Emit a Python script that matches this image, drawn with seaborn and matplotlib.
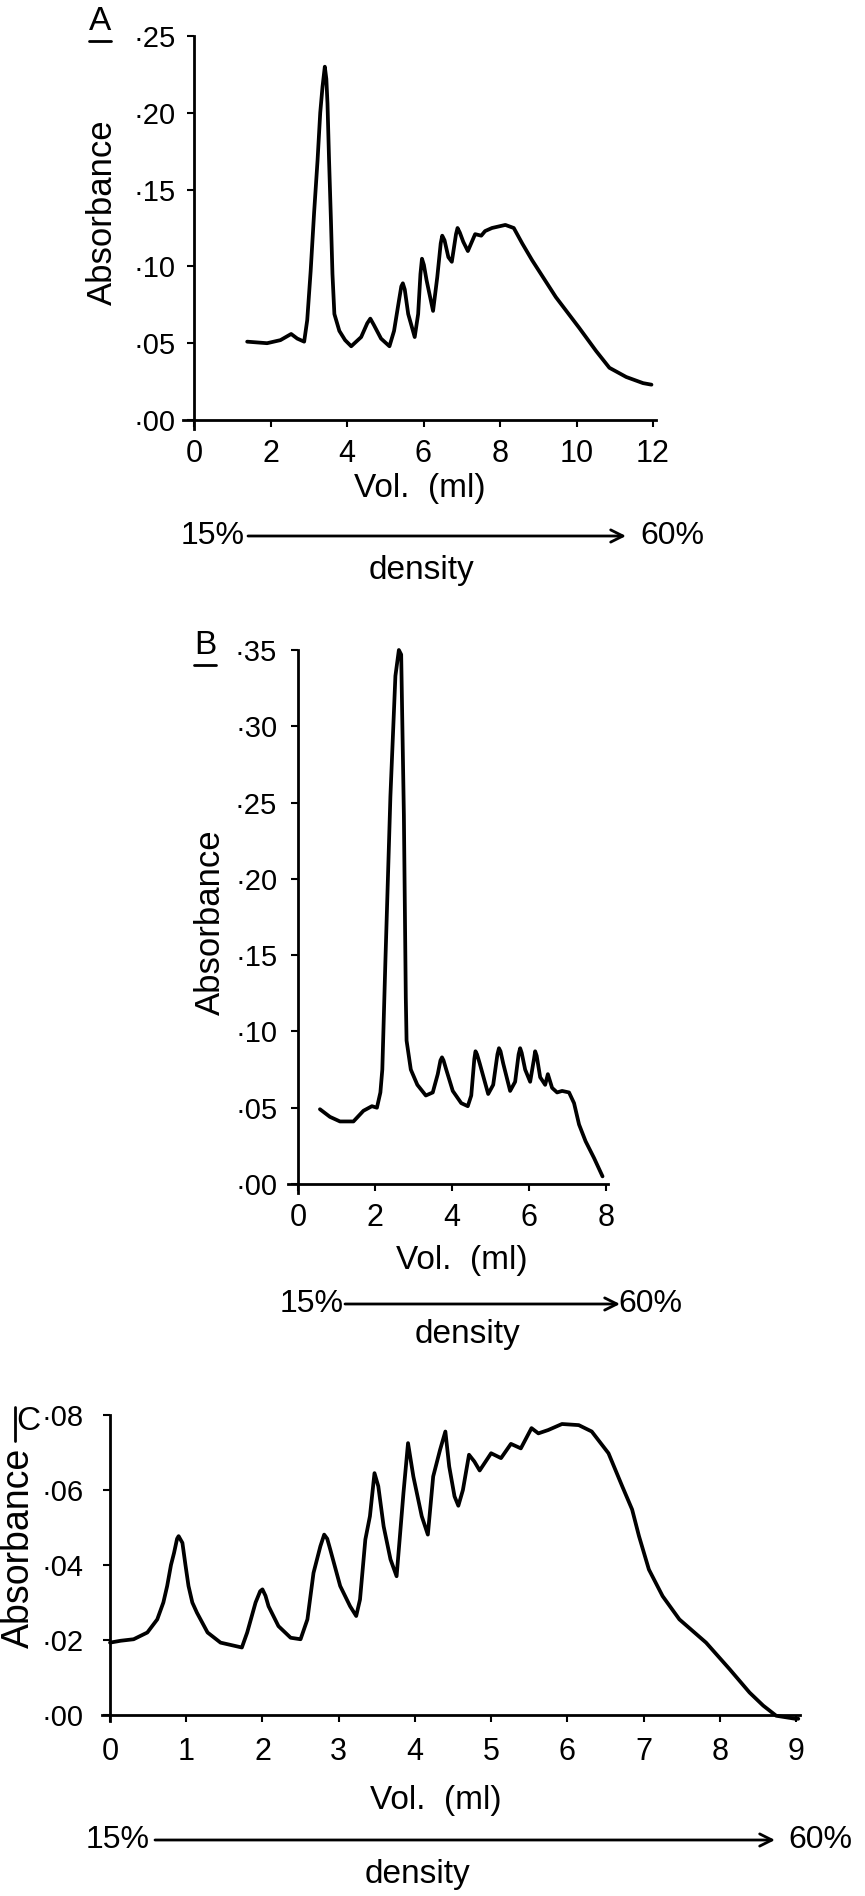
import matplotlib
matplotlib.use("Agg")
import matplotlib.pyplot as plt
import pandas as pd
import seaborn as sns
from matplotlib.lines import Line2D
from matplotlib.ticker import FuncFormatter, MultipleLocator

W, H = 865, 1896

# panel A: volume (ml) and absorbance
vol_a = [1.39, 1.91, 2.26, 2.54, 2.70, 2.88, 2.96, 3.05, 3.14, 3.23, 3.30, 3.36, 3.42, 3.46, 3.49,
         3.53, 3.58, 3.62, 3.67, 3.80, 3.95, 4.11, 4.37, 4.53, 4.61, 4.70, 4.89, 5.11, 5.23, 5.36,
         5.42, 5.46, 5.51, 5.60, 5.77, 5.86, 5.92, 5.96, 6.01, 6.08, 6.25, 6.36, 6.45, 6.49, 6.55,
         6.65, 6.74, 6.85, 6.89, 6.95, 7.04, 7.16, 7.35, 7.51, 7.61, 7.79, 8.14, 8.36, 8.58, 8.84,
         9.46, 10.07, 10.51, 10.86, 11.30, 11.74, 11.96]
abs_a = [0.051, 0.050, 0.052, 0.056, 0.053, 0.051, 0.065, 0.097, 0.135, 0.169, 0.200, 0.217, 0.230,
         0.222, 0.206, 0.170, 0.130, 0.095, 0.069, 0.058, 0.052, 0.048, 0.054, 0.063, 0.066, 0.062,
         0.053, 0.048, 0.058, 0.078, 0.087, 0.089, 0.085, 0.069, 0.054, 0.069, 0.095, 0.105, 0.101,
         0.091, 0.071, 0.093, 0.115, 0.120, 0.117, 0.106, 0.103, 0.121, 0.125, 0.122, 0.116, 0.110,
         0.121, 0.120, 0.123, 0.125, 0.127, 0.125, 0.115, 0.104, 0.080, 0.060, 0.045, 0.034, 0.028,
         0.024, 0.023]

# panel B
vol_b = [0.57, 0.83, 1.09, 1.44, 1.70, 1.92, 2.05, 2.14, 2.19, 2.27, 2.40, 2.53, 2.62, 2.68, 2.75,
         2.80, 2.82, 2.93, 3.10, 3.32, 3.50, 3.63, 3.70, 3.74, 3.78, 3.85, 4.02, 4.24, 4.41, 4.50,
         4.58, 4.61, 4.65, 4.72, 4.94, 5.07, 5.18, 5.22, 5.26, 5.33, 5.51, 5.64, 5.73, 5.77, 5.81,
         5.90, 6.03, 6.13, 6.16, 6.20, 6.29, 6.42, 6.49, 6.60, 6.73, 6.86, 7.04, 7.17, 7.30, 7.47,
         7.69, 7.91]
abs_b = [0.049, 0.044, 0.041, 0.041, 0.048, 0.051, 0.050, 0.060, 0.075, 0.146, 0.254, 0.333, 0.350,
         0.347, 0.242, 0.122, 0.094, 0.075, 0.065, 0.058, 0.060, 0.072, 0.081, 0.083, 0.081, 0.075,
         0.061, 0.053, 0.051, 0.058, 0.082, 0.087, 0.085, 0.079, 0.059, 0.065, 0.085, 0.089, 0.087,
         0.079, 0.061, 0.067, 0.085, 0.089, 0.086, 0.075, 0.067, 0.082, 0.087, 0.084, 0.070, 0.065,
         0.072, 0.063, 0.060, 0.061, 0.060, 0.053, 0.039, 0.028, 0.017, 0.005]

# panel C
vol_c = [0.00, 0.14, 0.31, 0.49, 0.62, 0.70, 0.75, 0.80, 0.84, 0.88, 0.90, 0.95, 0.99, 1.03, 1.08,
         1.14, 1.28, 1.45, 1.73, 1.80, 1.91, 1.97, 2.00, 2.04, 2.08, 2.21, 2.37, 2.50, 2.59, 2.67,
         2.76, 2.81, 2.85, 2.89, 3.02, 3.15, 3.23, 3.28, 3.35, 3.41, 3.47, 3.52, 3.59, 3.68, 3.76,
         3.80, 3.85, 3.91, 3.98, 4.09, 4.17, 4.24, 4.33, 4.40, 4.45, 4.52, 4.57, 4.63, 4.71, 4.78,
         4.85, 5.00, 5.13, 5.26, 5.39, 5.53, 5.62, 5.75, 5.93, 6.15, 6.32, 6.54, 6.72, 6.85, 6.94,
         7.07, 7.25, 7.47, 7.82, 8.13, 8.39, 8.57, 8.74, 8.99, 9.03]
abs_c = [0.0193, 0.0198, 0.0202, 0.0220, 0.0255, 0.0300, 0.0344, 0.0400, 0.0432, 0.0470, 0.0477,
         0.0459, 0.0400, 0.0344, 0.0300, 0.0273, 0.0220, 0.0193, 0.0180, 0.0220, 0.0300, 0.0330,
         0.0335, 0.0318, 0.0290, 0.0237, 0.0206, 0.0202, 0.0255, 0.0379, 0.0450, 0.0481, 0.0470,
         0.0441, 0.0344, 0.0290, 0.0264, 0.0308, 0.0468, 0.0530, 0.0645, 0.0610, 0.0503, 0.0415,
         0.0370, 0.0468, 0.0592, 0.0725, 0.0636, 0.0530, 0.0481, 0.0636, 0.0707, 0.0756, 0.0663,
         0.0583, 0.0558, 0.0600, 0.0694, 0.0676, 0.0652, 0.0698, 0.0685, 0.0723, 0.0711, 0.0765,
         0.0751, 0.0760, 0.0776, 0.0773, 0.0756, 0.0698, 0.0610, 0.0548, 0.0477, 0.0388, 0.0317,
         0.0255, 0.0193, 0.0122, 0.0060, 0.0025, -0.0002, -0.0010, -0.0010]

x_ticks_a = [0, 2, 4, 6, 8, 10, 12]
x_ticks_b = [0, 2, 4, 6, 8]
x_ticks_c = [0, 1, 2, 3, 4, 5, 6, 7, 8, 9]

FONT = ["Liberation Sans", "DejaVu Sans"]


def fx(px):
    return px / W


def fy(py):
    return 1 - py / H


def make_axes(fig, x0, x1, xmax, y0, y1, ymax, xpad, ypad):
    # x0/x1: pixel column of x=0 and x=xmax, y0/y1: pixel row of y=0 and y=ymax
    sx = (x1 - x0) / xmax
    sy = (y0 - y1) / ymax
    right_pad = 0.006 * xmax
    left = x0 - xpad * sx
    right = x1 + right_pad * sx
    bottom = y0 + ypad * sy
    top = y1
    ax = fig.add_axes([fx(left), fy(bottom), (right - left) / W, (bottom - top) / H])
    ax.set_xlim(-xpad, xmax + right_pad)
    ax.set_ylim(-ypad, ymax)
    return ax


def style_axes(ax, xticks, ystep, xpad_pt, ypad_pt):
    for side in ["top", "right"]:
        ax.spines[side].set_visible(False)
    ax.spines["left"].set_position(("data", 0))
    ax.spines["bottom"].set_position(("data", 0))
    for side in ["left", "bottom"]:
        ax.spines[side].set_linewidth(2)
    ax.set_xticks(xticks)
    ax.yaxis.set_major_locator(MultipleLocator(ystep))
    ax.yaxis.set_major_formatter(FuncFormatter(lambda v, p: "·%02d" % round(v * 100)))
    ax.tick_params(axis="both", direction="out", length=5, width=1.5, color="black")
    ax.tick_params(axis="x", labelsize=22, pad=xpad_pt)
    ax.tick_params(axis="y", labelsize=21, pad=ypad_pt)
    ax.set_xlabel("")
    ax.set_ylabel("")


def gradient(fig, y, x15, x0, x1, x60, xd, yd):
    fig.text(fx(x15), fy(y), "15%", ha="center", va="center", fontsize=23)
    fig.text(fx(x60), fy(y), "60%", ha="center", va="center", fontsize=23)
    fig.axes[0].annotate("", xy=(x1, H - y), xytext=(x0, H - y), xycoords="figure pixels",
                         arrowprops=dict(arrowstyle="->", lw=2, color="black",
                                         mutation_scale=22, shrinkA=0, shrinkB=0))
    fig.text(fx(xd), fy(yd), "density", ha="center", va="center", fontsize=24)


def panel_label(fig, text, x, y, vertical_bar=False):
    fig.text(fx(x), fy(y), text, ha="center", va="center", fontsize=24)
    if vertical_bar:
        xs, ys = [fx(x - 13), fx(x - 13)], [fy(y - 14), fy(y + 20)]
    else:
        xs, ys = [fx(x - 11), fx(x + 11)], [fy(y + 19), fy(y + 19)]
    fig.add_artist(Line2D(xs, ys, color="black", lw=2, transform=fig.transFigure))


def main() -> None:
    sns.set_style("ticks")
    plt.rcParams["font.family"] = FONT
    plt.rcParams["text.color"] = "black"
    plt.rcParams["xtick.color"] = "black"
    plt.rcParams["ytick.color"] = "black"
    plt.rcParams["axes.edgecolor"] = "black"

    fig = plt.figure(figsize=(W / 100, H / 100), dpi=100)
    fig.patch.set_facecolor("white")

    df_a = pd.DataFrame({"vol": vol_a, "absorbance": abs_a})
    df_b = pd.DataFrame({"vol": vol_b, "absorbance": abs_b})
    df_c = pd.DataFrame({"vol": vol_c, "absorbance": abs_c})

    # A
    ax_a = make_axes(fig, 194, 653, 12, 420, 36, 0.25, 0.3, 0.006)
    sns.lineplot(data=df_a, x="vol", y="absorbance", ax=ax_a, color="black", lw=2.7,
                 sort=False, estimator=None)
    style_axes(ax_a, x_ticks_a, 0.05, 9, 8)
    fig.text(fx(420), fy(488), "Vol.  (ml)", ha="center", va="center", fontsize=24)
    fig.text(fx(102), fy(212), "Absorbance", ha="center", va="center", rotation=90, fontsize=25)
    panel_label(fig, "A", 100, 22)
    gradient(fig, 536, 213, 248, 626, 672, 422, 571)

    # B
    ax_b = make_axes(fig, 298, 606, 8, 1184, 650, 0.35, 0.25, 0.006)
    sns.lineplot(data=df_b, x="vol", y="absorbance", ax=ax_b, color="black", lw=2.7,
                 sort=False, estimator=None)
    style_axes(ax_b, x_ticks_b, 0.05, 9, 10)
    fig.text(fx(462), fy(1260), "Vol.  (ml)", ha="center", va="center", fontsize=24)
    fig.text(fx(210), fy(922), "Absorbance", ha="center", va="center", rotation=90, fontsize=25)
    panel_label(fig, "B", 205, 646)
    gradient(fig, 1304, 312, 345, 620, 650, 467, 1334)

    # C
    ax_c = make_axes(fig, 110, 796, 9, 1715, 1415, 0.08, 0.1, 0.0015)
    sns.lineplot(data=df_c, x="vol", y="absorbance", ax=ax_c, color="black", lw=2.7,
                 sort=False, estimator=None)
    style_axes(ax_c, x_ticks_c, 0.02, 11, 14)
    fig.text(fx(436), fy(1800), "Vol.  (ml)", ha="center", va="center", fontsize=24)
    fig.text(fx(19), fy(1548), "Absorbance", ha="center", va="center", rotation=90, fontsize=27)
    panel_label(fig, "C", 28, 1421, vertical_bar=True)
    gradient(fig, 1840, 118, 155, 775, 820, 417, 1874)

    for ax in (ax_a, ax_b, ax_c):
        for line in ax.get_lines():
            line.set_clip_on(False)
            line.set_solid_joinstyle("round")

    fig.savefig("out.png", dpi=100, facecolor="white")
    plt.close(fig)


if __name__ == "__main__":
    main()
